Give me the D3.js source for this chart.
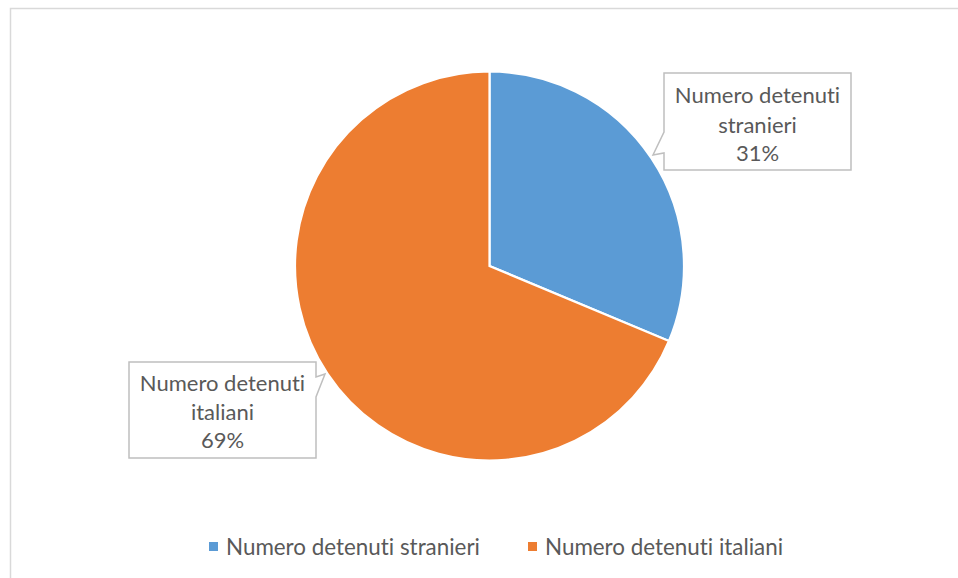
<!DOCTYPE html>
<html>
<head>
<meta charset="utf-8">
<script src="https://cdn.jsdelivr.net/npm/d3@7"></script>
<style>
  html, body { margin: 0; padding: 0; background: #fff; }
  svg { display: block; }
  text { font-family: Lato, "Open Sans", sans-serif; fill: #595959; font-variant-ligatures: none; font-feature-settings: "liga" 0; }
</style>
</head>
<body>
<svg id="chart" width="958" height="578"></svg>
<script>
// ---- data ----
const categories = ["Numero detenuti stranieri", "Numero detenuti italiani"];
const values = [31.3, 68.7];
const colors = ["#5B9BD5", "#ED7D31"];

// ---- layout ----
const W = 958, H = 578;
const cx = 489.5, cy = 266, R = 194.5;
const svg = d3.select("#chart");

// outer chart border (extends beyond the visible window on right/bottom)
svg.append("rect")
  .attr("x", 10.5).attr("y", 8.5)
  .attr("width", W + 20).attr("height", H + 20)
  .attr("fill", "#fff").attr("stroke", "#d9d9d9").attr("stroke-width", 1.5);

const total = d3.sum(values);
const pie = d3.pie().sort(null).value(d => d)(values);
const arc = d3.arc().innerRadius(0).outerRadius(R);

const g = svg.append("g").attr("transform", `translate(${cx},${cy})`);
g.selectAll("path.slice")
  .data(pie)
  .join("path")
  .attr("class", "slice")
  .attr("d", arc)
  .attr("fill", (d, i) => colors[i])
  .attr("stroke", "#fff")
  .attr("stroke-width", 2.2)
  .attr("stroke-linejoin", "miter");

// ---- callouts ----
const pct = v => Math.round(v / total * 100) + "%";
const labelLines = [
  ["Numero detenuti", "stranieri", pct(values[0])],
  ["Numero detenuti", "italiani", pct(values[1])]
];
const callouts = [
  { x0: 664, x1: 851, y0: 73, y1: 170, side: "left", b0: 132, b1: 153, tip: [653, 155], baselines: [103, 133, 161] },
  { x0: 129, x1: 316, y0: 362, y1: 458, side: "right", b0: 377, b1: 397, tip: [325, 374], baselines: [391, 420, 448] }
];

callouts.forEach((c, i) => {
  const p = d3.path();
  if (c.side === "left") {
    p.moveTo(c.x0, c.y0);
    p.lineTo(c.x1, c.y0);
    p.lineTo(c.x1, c.y1);
    p.lineTo(c.x0, c.y1);
    p.lineTo(c.x0, c.b1);
    p.lineTo(c.tip[0], c.tip[1]);
    p.lineTo(c.x0, c.b0);
    p.closePath();
  } else {
    p.moveTo(c.x0, c.y0);
    p.lineTo(c.x1, c.y0);
    p.lineTo(c.x1, c.b0);
    p.lineTo(c.tip[0], c.tip[1]);
    p.lineTo(c.x1, c.b1);
    p.lineTo(c.x1, c.y1);
    p.lineTo(c.x0, c.y1);
    p.closePath();
  }
  svg.append("path")
    .attr("d", p.toString())
    .attr("fill", "#fff")
    .attr("stroke", "#bfbfbf")
    .attr("stroke-width", 1.5)
    .attr("stroke-linejoin", "miter");
  const mx = (c.x0 + c.x1) / 2;
  labelLines[i].forEach((t, j) => {
    svg.append("text")
      .attr("x", mx).attr("y", c.baselines[j])
      .attr("text-anchor", "middle")
      .attr("font-size", 22)
      .text(t);
  });
});

// ---- legend ----
const legendX = [209, 528];
const legend = svg.append("g");
categories.forEach((name, i) => {
  legend.append("rect")
    .attr("x", legendX[i]).attr("y", 542)
    .attr("width", 9).attr("height", 9)
    .attr("fill", colors[i]);
  legend.append("text")
    .attr("x", legendX[i] + 17).attr("y", 555)
    .attr("font-size", 22.4)
    .text(name);
});
</script>
</body>
</html>
